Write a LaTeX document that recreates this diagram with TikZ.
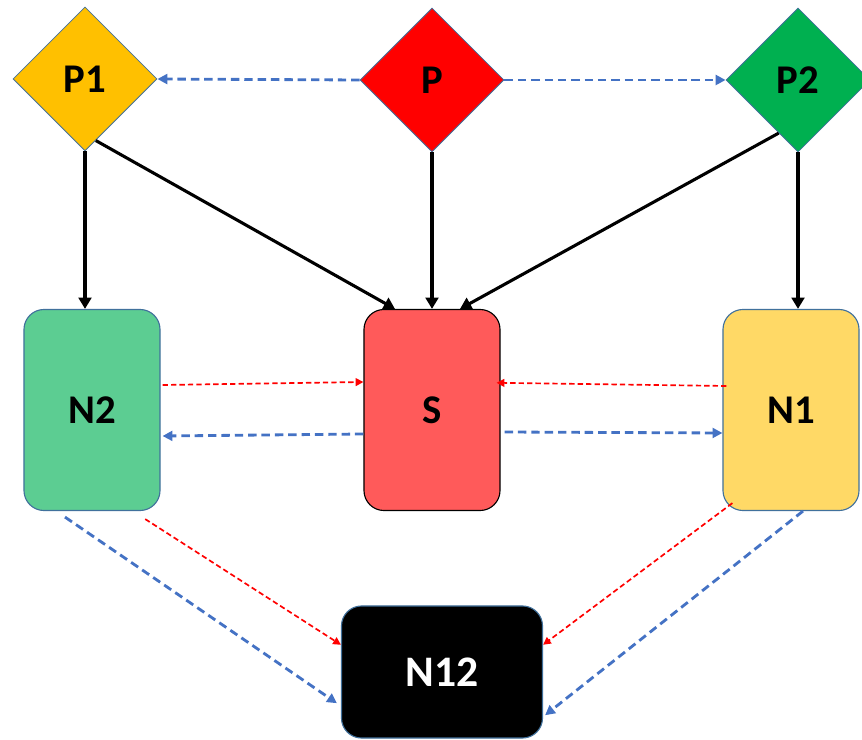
\documentclass[tikz,border=0pt]{standalone}
\usepackage{fontspec}
\setsansfont{Carlito}
\usepackage{xcolor}
\definecolor{diagram-gold}{HTML}{FFC000}
\definecolor{diagram-red}{HTML}{FF0000}
\definecolor{diagram-green}{HTML}{00B050}
\definecolor{diagram-mint}{HTML}{5CCD92}
\definecolor{diagram-salmon}{HTML}{FF5A5A}
\definecolor{diagram-yellow}{HTML}{FFD966}
\definecolor{diagram-blue}{HTML}{4472C4}
\definecolor{diagram-edge}{HTML}{41719C}
\usepackage{tikz}
\usetikzlibrary{shapes.geometric, arrows.meta}

\tikzset{
    parent/.style={shape=diamond, aspect=1, minimum width=3.6cm, minimum height=3.6cm,
        inner sep=0pt, draw=diagram-edge, line width=0.6pt,
        font=\sffamily\bfseries\fontsize{29}{34}\selectfont},
    child/.style={rectangle, rounded corners=0.5cm, minimum width=3.4cm, minimum height=5.025cm,
        draw=diagram-edge, line width=0.8pt,
        font=\sffamily\bfseries\fontsize{29}{34}\selectfont},
    solidarrow/.style={black, line width=2.2pt, -{Triangle[length=8pt, width=9pt]}},
    bluearrow/.style={diagram-blue, line width=2pt, dash pattern=on 6pt off 3.5pt,
        -{Triangle[length=7pt, width=7pt]}},
    redarrow/.style={diagram-red, line width=1.2pt, dash pattern=on 3.8pt off 2.2pt,
        -{Triangle[length=5.5pt, width=5.5pt]}}
}

\begin{document}
\begin{tikzpicture}[x=0.025cm, y=-0.025cm]

    % Frame
    \useasboundingbox (0, 0) rectangle (862, 740);

    % Parents
    \node[parent, fill=diagram-gold] (P1) at (85, 79) {P1};
    \node[parent, fill=diagram-red] (P) at (432, 80) {P};
    \node[parent, fill=diagram-green] (P2) at (798, 80) {P2};

    % Children
    \node[child, fill=diagram-mint] (N2) at (92, 410) {N2};
    \node[child, fill=diagram-salmon, draw=black] (S) at (432, 410) {S};
    \node[child, fill=diagram-yellow] (N1) at (791, 410) {N1};
    \node[child, fill=black, text=white, minimum width=5.025cm, minimum height=3.3cm,
        font=\sffamily\bfseries\fontsize{31}{36}\selectfont] (N12) at (442, 672) {N12};

    % Top links
    \draw[bluearrow] (P.west) -- (P1.east);
    \draw[bluearrow] (P.east) -- (P2.west);

    % Descent
    \draw[solidarrow] (P1.south) -- (P1.south |- N2.north);
    \draw[solidarrow] (P1.-80) -- ([xshift=-0.925cm]S.north);
    \draw[solidarrow] (P.south) -- (S.north);
    \draw[solidarrow] (P2.-110) -- ([xshift=0.7cm]S.north);
    \draw[solidarrow] (P2.south) -- (P2.south |- N1.north);

    % Side links
    \draw[redarrow] ([xshift=0.05cm, yshift=0.625cm]N2.east) -- ([yshift=0.7cm]S.west);
    \draw[bluearrow] ([yshift=-0.6cm]S.west) -- ([xshift=0.05cm, yshift=-0.65cm]N2.east);
    \draw[redarrow] ([xshift=0.1cm, yshift=0.6cm]N1.west) -- ([xshift=-0.1cm, yshift=0.68cm]S.east);
    \draw[bluearrow] ([xshift=0.1cm, yshift=-0.55cm]S.east) -- ([yshift=-0.575cm]N1.west);

    % Bottom links
    \draw[bluearrow] ([xshift=-0.675cm, yshift=-0.15cm]N2.south) -- ([xshift=-0.1cm, yshift=-0.78cm]N12.west);
    \draw[redarrow] ([xshift=1.33cm, yshift=-0.2cm]N2.south) -- ([yshift=0.68cm]N12.west);
    \draw[redarrow] ([xshift=0.25cm, yshift=0.2cm]N1.south west) -- ([yshift=0.68cm]N12.east);
    \draw[bluearrow] ([xshift=0.3cm]N1.south) -- ([xshift=0.05cm, yshift=-1.08cm]N12.east);

\end{tikzpicture}
\end{document}
